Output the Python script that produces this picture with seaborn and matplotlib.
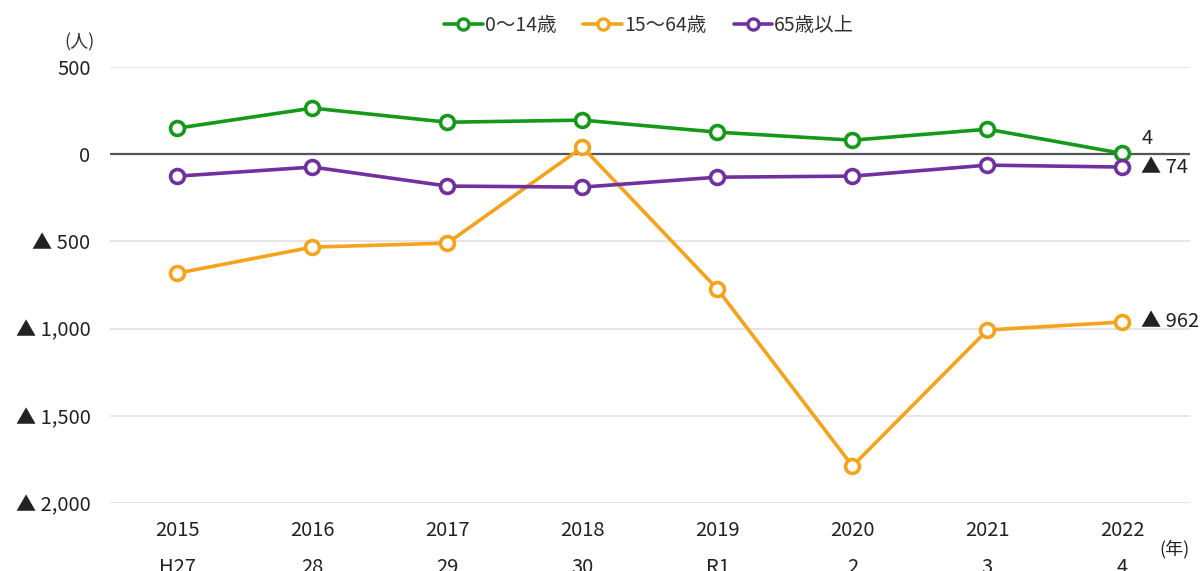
import pandas as pd
import matplotlib.pyplot as plt
import seaborn as sns
from matplotlib.ticker import FuncFormatter

years = [2015, 2016, 2017, 2018, 2019, 2020, 2021, 2022]
era_labels = ["H27", "28", "29", "30", "R1", "2", "3", "4"]
age_0_14 = [149, 264, 183, 195, 126, 80, 143, 4]
age_15_64 = [-682, -533, -510, 40, -774, -1788, -1008, -962]
age_65_plus = [-126, -74, -183, -189, -132, -126, -63, -74]
groups = ["0～14歳", "15～64歳", "65歳以上"]
colors = ["#14991a", "#f5a31a", "#7030a0"]

df = pd.DataFrame({"year": years * 3,
                   "value": age_0_14 + age_15_64 + age_65_plus,
                   "group": [g for g in groups for _ in years]})

sns.set_style("white")
plt.rcParams['font.family'] = ['Noto Sans CJK JP', 'DejaVu Sans']

fig = plt.figure(figsize=(12.02, 5.71), dpi=100)
ax = fig.add_axes([0.0915, 0.119, 0.8985, 0.7638])

sns.lineplot(data=df, x="year", y="value", hue="group", hue_order=groups,
             palette=colors, marker="o", markersize=10, markerfacecolor="white",
             markeredgewidth=2.6, linewidth=2.6, ax=ax, legend=False, zorder=3)
# seaborn paints marker edges white, give them the line colour
for line in ax.lines:
    line.set_markeredgecolor(line.get_color())

ax.set_xlim(2014.5, 2022.5)
ax.set_ylim(-2000, 500)
ax.set_yticks([500, 0, -500, -1000, -1500, -2000])
ax.yaxis.set_major_formatter(FuncFormatter(
    lambda v, p: f"{int(v):,}" if v >= 0 else f"▲ {int(-v):,}"))
ax.set_xticks(years)
ax.set_xticklabels([f"{y}\n{e}" for y, e in zip(years, era_labels)], linespacing=2.0)
ax.tick_params(axis="both", length=0, labelsize=14.5, colors="#222222")
ax.tick_params(axis="x", pad=12)
ax.tick_params(axis="y", pad=14)
ax.grid(axis="y", color="#e0e0e0", linewidth=1.2)
ax.axhline(0, color="#555555", linewidth=1.6, zorder=2)
for s in ax.spines.values():
    s.set_visible(False)
ax.set_xlabel("")
ax.set_ylabel("")

# end labels
ax.annotate("4", (years[-1], age_0_14[-1]), xytext=(14, 11), textcoords="offset points",
            fontsize=14.5, color="#222222", va="center")
ax.annotate("▲ 74", (years[-1], age_65_plus[-1]), xytext=(13, 0), textcoords="offset points",
            fontsize=14.5, color="#222222", va="center")
ax.annotate("▲ 962", (years[-1], age_15_64[-1]), xytext=(13, 0), textcoords="offset points",
            fontsize=14.5, color="#222222", va="center")

fig.text(0.066, 0.925, "(人)", fontsize=13, color="#333333", ha="center", va="center")
fig.text(0.977, 0.038, "(年)", fontsize=13, color="#222222", ha="center", va="center")

handles = [plt.Line2D([], [], color=c, marker="o", markersize=8, markerfacecolor="white",
                      markeredgewidth=2.4, linewidth=2.6) for c in colors]
fig.legend(handles, groups, loc="center", bbox_to_anchor=(0.54, 0.955), ncol=3,
           frameon=False, fontsize=14, handlelength=2.0, handletextpad=0.1,
           columnspacing=1.4, labelcolor="#333333")

plt.savefig("out.png", dpi=100)
